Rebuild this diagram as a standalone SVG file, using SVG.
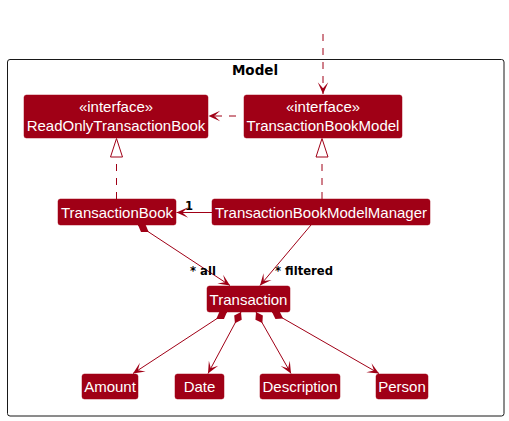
<svg xmlns="http://www.w3.org/2000/svg" width="509" height="421" viewBox="0 0 509 421">
<style>
.box{fill:#A00016;stroke:#A00016;stroke-width:0.5}
.t{font-family:"Liberation Sans",Arial,sans-serif;font-size:15px;fill:#FFFFFF;text-anchor:middle}
.lbl{font-family:"DejaVu Sans","Liberation Sans",sans-serif;font-size:11.6px;font-weight:bold;fill:#000000}
.ln{fill:none;stroke:#A00016;stroke-width:1}
.dash{stroke-dasharray:7,7}
.tri{fill:#FFFFFF;stroke:#A00016;stroke-width:1}
</style>
<defs>
<marker id="arr" markerUnits="userSpaceOnUse" markerWidth="14" markerHeight="14" viewBox="-11 -6 12 12" refX="0" refY="0" orient="auto">
<polygon points="0,0 -10,-4.5 -5,0 -10,4.5" fill="#A00016"/>
</marker>
<marker id="dia" markerUnits="userSpaceOnUse" markerWidth="16" markerHeight="16" viewBox="-1 -6 15 12" refX="0" refY="0" orient="auto">
<polygon points="0,0 6,-4 12,0 6,4" fill="#A00016"/>
</marker>
</defs>
<rect x="0" y="0" width="509" height="421" fill="#FFFFFF"/>
<g id="Model">
<rect x="7.5" y="59.5" width="496.5" height="356.5" rx="2.5" fill="none" stroke="#181818" stroke-width="1"/>
<text x="255" y="75" font-family="&quot;DejaVu Sans&quot;,&quot;Liberation Sans&quot;,sans-serif" font-size="13.5" font-weight="bold" text-anchor="middle" fill="#000000">Model</text>
</g>
<g id="connectors">
<line class="ln dash" x1="323" y1="34" x2="323" y2="94" marker-end="url(#arr)"/>
<line class="ln dash" x1="236" y1="116" x2="208.5" y2="116" marker-end="url(#arr)"/>
<line class="ln dash" x1="116.5" y1="199" x2="116.5" y2="157"/>
<polygon class="tri" points="116.5,138.5 110.5,157 122.5,157"/>
<line class="ln dash" x1="322" y1="199" x2="322" y2="157"/>
<polygon class="tri" points="322,138.5 316,157 328,157"/>
<line class="ln" x1="212" y1="212.5" x2="176.5" y2="212.5" marker-end="url(#arr)"/>
<line class="ln" x1="138" y1="225" x2="230" y2="285.5" marker-start="url(#dia)" marker-end="url(#arr)"/>
<line class="ln" x1="311" y1="225" x2="260" y2="285.5" marker-end="url(#arr)"/>
<line class="ln" x1="227" y1="312" x2="133" y2="373.5" marker-start="url(#dia)" marker-end="url(#arr)"/>
<line class="ln" x1="241" y1="312" x2="208" y2="373.5" marker-start="url(#dia)" marker-end="url(#arr)"/>
<line class="ln" x1="256" y1="312" x2="291" y2="373.5" marker-start="url(#dia)" marker-end="url(#arr)"/>
<line class="ln" x1="272" y1="312" x2="379" y2="373.5" marker-start="url(#dia)" marker-end="url(#arr)"/>
<text class="lbl" x="185" y="210">1</text>
<text class="lbl" x="190" y="275">* all</text>
<text class="lbl" x="275" y="275">* filtered</text>
</g>
<g id="ReadOnlyTransactionBook">
<rect class="box" x="24" y="95" width="184" height="43" rx="2.5"/>
<text class="t" x="116" y="112">«interface»</text>
<text class="t" x="116" y="131">ReadOnlyTransactionBook</text>
</g>
<g id="TransactionBookModel">
<rect class="box" x="244" y="95" width="158" height="43" rx="2.5"/>
<text class="t" x="323" y="112">«interface»</text>
<text class="t" x="323" y="131">TransactionBookModel</text>
</g>
<g id="TransactionBook">
<rect class="box" x="58" y="199" width="118" height="26" rx="2.5"/>
<text class="t" x="117" y="217.5">TransactionBook</text>
</g>
<g id="TransactionBookModelManager">
<rect class="box" x="212" y="199" width="218" height="26" rx="2.5"/>
<text class="t" x="321" y="217.5">TransactionBookModelManager</text>
</g>
<g id="Transaction">
<rect class="box" x="207" y="286" width="83" height="26" rx="2.5"/>
<text class="t" x="248.5" y="304.5">Transaction</text>
</g>
<g id="Amount">
<rect class="box" x="82" y="374" width="56" height="25" rx="2.5"/>
<text class="t" x="110" y="391.5">Amount</text>
</g>
<g id="Date">
<rect class="box" x="175" y="374" width="49" height="25" rx="2.5"/>
<text class="t" x="199.5" y="391.5">Date</text>
</g>
<g id="Description">
<rect class="box" x="260" y="374" width="80" height="25" rx="2.5"/>
<text class="t" x="300" y="391.5">Description</text>
</g>
<g id="Person">
<rect class="box" x="376" y="374" width="52" height="25" rx="2.5"/>
<text class="t" x="402" y="391.5">Person</text>
</g>
</svg>
